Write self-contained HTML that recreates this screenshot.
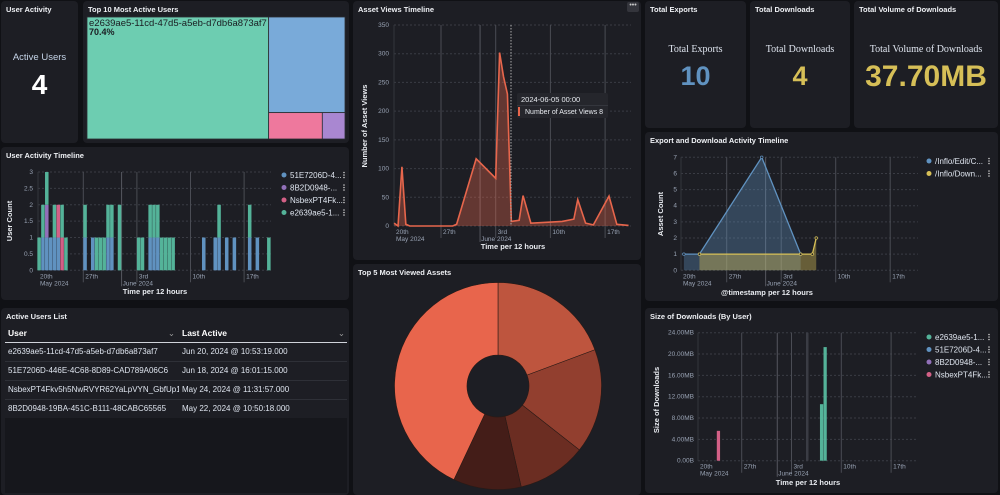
<!DOCTYPE html>
<html><head><meta charset="utf-8">
<style>
*{box-sizing:border-box;margin:0;padding:0}
body{width:1000px;height:495px;background:#101115;font-family:"Liberation Sans",sans-serif;color:#dfe5ef;position:relative;overflow:hidden}
.p{position:absolute;background:#1d1e24;border-radius:4px;overflow:hidden}
.t{position:absolute;left:5px;top:4px;font-size:7.5px;font-weight:bold;color:#eef0f4}
svg{position:absolute;left:0;top:0}
text{font-family:"Liberation Sans",sans-serif}
.stl{position:absolute;width:100%;text-align:center;font-family:"Liberation Serif",serif;font-size:10px;color:#dfe5ef}
.sv{position:absolute;width:100%;text-align:center;font-weight:bold}
table{border-collapse:collapse;width:100%;font-size:8.5px;table-layout:fixed}
tr.r td{font-size:8px;white-space:nowrap;overflow:hidden}
</style></head><body>
<svg id="root" width="1000" height="495"></svg>

<div class="p" style="left:1px;top:1px;width:77px;height:142px">
 <div class="t">User Activity</div>
 <div class="stl" style="top:51px;color:#c5d4e8;font-family:'Liberation Sans',sans-serif;font-size:9.5px">Active Users</div>
 <div class="sv" style="top:68px;font-size:28px;color:#fff">4</div>
</div>

<div class="p" style="left:83px;top:1px;width:266px;height:142px">
 <div class="t">Top 10 Most Active Users</div>
</div>

<div class="p" style="left:353px;top:1px;width:288px;height:259px">
 <div class="t">Asset Views Timeline</div>
 <div style="position:absolute;right:2px;top:1px;width:12px;height:10px;background:#34353c;border-radius:2px;font-size:7px;text-align:center;line-height:8px;color:#ccc">•••</div>
</div>

<div class="p" style="left:645px;top:1px;width:101px;height:127px">
 <div class="t">Total Exports</div>
 <div class="stl" style="top:43px">Total Exports</div>
 <div class="sv" style="top:60px;font-size:27px;color:#6092c0">10</div>
</div>
<div class="p" style="left:750px;top:1px;width:100px;height:127px">
 <div class="t">Total Downloads</div>
 <div class="stl" style="top:43px">Total Downloads</div>
 <div class="sv" style="top:60px;font-size:27px;color:#d6bf57">4</div>
</div>
<div class="p" style="left:854px;top:1px;width:144px;height:127px">
 <div class="t">Total Volume of Downloads</div>
 <div class="stl" style="top:43px">Total Volume of Downloads</div>
 <div class="sv" style="top:59px;font-size:30px;color:#d6bf57">37.70MB</div>
</div>

<div class="p" style="left:1px;top:147px;width:348px;height:153px">
 <div class="t">User Activity Timeline</div>
</div>
<div class="p" style="left:645px;top:132px;width:353px;height:169px">
 <div class="t">Export and Download Activity Timeline</div>
</div>

<div class="p" style="left:1px;top:308px;width:348px;height:187px">
 <div class="t">Active Users List</div>
 <div style="position:absolute;left:4px;top:17px;width:342px;height:168px">
 <table>
  <colgroup><col style="width:174px"><col></colgroup>
  <tr style="height:17px;border-bottom:1px solid #d0d3da;font-weight:bold;color:#fff">
   <td style="padding-left:3px">User <span style="float:right;font-weight:normal;color:#999;padding-right:4px">⌄</span></td>
   <td style="padding-left:3px">Last Active <span style="float:right;font-weight:normal;color:#999;padding-right:2px">⌄</span></td></tr>
  <tr class="r" style="height:19px;border-bottom:1px solid #2e3037"><td style="padding-left:3px">e2639ae5-11cd-47d5-a5eb-d7db6a873af7</td><td style="padding-left:3px">Jun 20, 2024 @ 10:53:19.000</td></tr>
  <tr class="r" style="height:19px;border-bottom:1px solid #2e3037"><td style="padding-left:3px">51E7206D-446E-4C68-8D89-CAD789A06C6</td><td style="padding-left:3px">Jun 18, 2024 @ 16:01:15.000</td></tr>
  <tr class="r" style="height:19px;border-bottom:1px solid #2e3037"><td style="padding-left:3px">NsbexPT4Fkv5h5NwRVYR62YaLpVYN_GbfUp1</td><td style="padding-left:3px">May 24, 2024 @ 11:31:57.000</td></tr>
  <tr class="r" style="height:19px;border-bottom:1px solid #2e3037"><td style="padding-left:3px">8B2D0948-19BA-451C-B111-48CABC65565</td><td style="padding-left:3px">May 22, 2024 @ 10:50:18.000</td></tr>
 </table>
 <div style="position:absolute;left:0;top:93px;width:342px;height:75px;background:#16171c"></div>
 </div>
</div>

<div class="p" style="left:353px;top:264px;width:288px;height:231px">
 <div class="t">Top 5 Most Viewed Assets</div>
</div>
<div class="p" style="left:645px;top:308px;width:353px;height:185px">
 <div class="t">Size of Downloads (By User)</div>
</div>

<svg id="ov" width="1000" height="495"></svg>

<script>
// ---------- data ----------
const treemapUsers = ["e2639ae5-11cd-47d5-a5eb-d7db6a873af7","51E7206D-446E","NsbexPT4Fkv5","8B2D0948-19BA"];
const treemapValues = [70.4, 23.2, 4.5, 1.9];

const avBuckets = [-12,-11,-10,-9,-8,3,4,9,14,15,16,17,18,20,21,23,31,34,35,37,39,43,45,48];
const avValues  = [5,0,103,3,0,0,3,117,83,302,260,230,8,10,53,5,8,12,46,5,2,52,3,1];
const avTicks = [0,50,100,150,200,250,300,350];

const uaBuckets = [-12,-11,-10,-9,-8,-7,-6,-5,0,2,3,4,5,6,7,9,14,15,17,18,19,20,21,22,23,31,34,35,37,39,43,45,48];
const uaBlue    = [0,1,1,1,1,1,0,0,1,1,0,0,0,1,1,0,0,0,1,1,1,0,0,0,0,1,1,1,1,1,1,1,0];
const uaPurple  = [0,0,1,0,0,0,0,0,0,0,0,0,0,0,0,0,0,0,0,0,0,0,0,0,0,0,0,0,0,0,0,0,0];
const uaPink    = [0,0,0,0,0,1,1,0,0,0,0,0,0,0,0,0,0,0,0,0,0,0,0,0,0,0,0,0,0,0,0,0,0];
const uaGreen   = [1,1,1,0,1,0,1,1,1,0,1,1,1,1,1,2,1,1,1,1,1,1,1,1,1,0,0,1,0,0,1,0,1];
const uaTicks = [0,0.5,1,1.5,2,2.5,3];

const exBlueBuckets = [-11,-7,9,19];
const exBlueValues = [1,1,7,1];
const exYellowBuckets = [-7,19,22,23];
const exYellowValues = [1,1,1,2];
const exTicks = [0,1,2,3,4,5,6,7];

const pieValues = [193,163,108,106,430];

const dlBuckets = [-7,22,23];
const dlGreen = [0,10.6,21.3];
const dlPink = [5.6,0,0];
const dlTicks = [0,4,8,12,16,20,24];
const dlTickLabels = ["0.00B","4.00MB","8.00MB","12.00MB","16.00MB","20.00MB","24.00MB"];

const xLabels = ["20th","27th","3rd","10th","17th"];
const xLabelDays = [-7,0,7,14,21];

// ---------- helpers ----------
const NS="http://www.w3.org/2000/svg";
const ov=document.getElementById('ov');
function mk(tag,attrs,parent){const e=document.createElementNS(NS,tag);for(const k in attrs)e.setAttribute(k,attrs[k]);(parent||ov).appendChild(e);return e;}
function txt(x,y,s,attrs){const e=mk('text',Object.assign({x:x,y:y,'font-size':6.5,fill:'#98a2b3'},attrs||{}));e.textContent=s;return e;}

function timeAxis(cfg){
  const g=mk('g',{});
  
  
  xLabelDays.forEach((d,k)=>{
    let x=cfg.x27+d*cfg.wk/7;
    let lx=x;
    if(x<cfg.left){lx=cfg.left;} else {mk('line',{x1:x,x2:x,y1:cfg.top,y2:cfg.bottom+12,stroke:'#4a4c54','stroke-width':1},g);}
    const t=txt(lx+2,cfg.bottom+8,xLabels[k],{});g.appendChild(t);
    if(k==0){const t2=txt(lx+2,cfg.bottom+15,"May 2024",{});g.appendChild(t2);}
  });
  const jx=cfg.x27+5*cfg.wk/7;
  mk('line',{x1:jx,x2:jx,y1:cfg.top,y2:cfg.bottom+16,stroke:'#55575f','stroke-width':1},g);
  const t3=txt(jx+1,cfg.bottom+15,"June 2024",{});g.appendChild(t3);
  mk('line',{x1:cfg.left,x2:cfg.left,y1:cfg.top,y2:cfg.bottom,stroke:'#34363d'},g);
}
function yGrid(name,ticks,labels,yf,left,right,lx){
  const g=mk('g',{});
  
  
  ticks.forEach((v,k)=>{
    const y=yf(v);
    mk('line',{x1:left,x2:right,y1:y,y2:y,stroke:'#3a3c44','stroke-dasharray':'2,2'},g);
    const t=txt(lx,y+2,labels?labels[k]:String(v),{'text-anchor':'end'});g.appendChild(t);
  });
}
function axisTitle(x,y,s,rot,name){
  const t=txt(x,y,s,{'font-size':7.5,'font-weight':'bold',fill:'#e8ebf0','text-anchor':'middle',transform:rot?`rotate(-90 ${x} ${y})`:''});
  
  
}
function legend(x,y,items,name){
  items.forEach((it,k)=>{
    const g=mk('g',{});
    
    
    mk('circle',{cx:x,cy:y+k*12.5,r:2.5,fill:it[1]},g);
    g.appendChild(txt(x+6,y+k*12.5+3,it[0],{'font-size':8,fill:'#dfe5ef'}));
    for(let d=-1;d<=1;d++)mk('circle',{cx:x+60,cy:y+k*12.5+d*2.5,r:0.8,fill:'#ccc'},g);
  });
}
const BLUE='#6092c0',PURPLE='#9170b8',PINK='#d36086',GREEN='#54b399',YEL='#d6bf57';

// ---------- treemap ----------
(function(){
  const L=87,T=17,W=258,H=122,tot=treemapValues.reduce((a,b)=>a+b,0);
  const cols=['#6dcdb1','#79aad9','#ee789d','#a987d1'];
  const w0=W*treemapValues[0]/tot;
  const rects=[[L,T,w0,H]];
  const rest=tot-treemapValues[0];
  const h1=H*treemapValues[1]/rest;
  rects.push([L+w0,T,W-w0,h1]);
  const rw=W-w0,r2=treemapValues[2]+treemapValues[3];
  const w2=rw*treemapValues[2]/r2;
  rects.push([L+w0,T+h1,w2,H-h1]);
  rects.push([L+w0+w2,T+h1,rw-w2,H-h1]);
  rects.forEach((r,k)=>{
    const e=mk('rect',{x:r[0],y:r[1],width:r[2],height:r[3],fill:cols[k],stroke:'#2b2d33','stroke-width':0.8});
    
    
  });
  txt(89,26,treemapUsers[0],{'font-size':9.5,fill:'#1a1c21'});
  txt(89,35,(treemapValues[0]/tot*100).toFixed(1)+'%',{'font-size':9,'font-weight':'bold',fill:'#1a1c21'});
})();

// ---------- asset views ----------
(function(){
  const x27=441,wk=54.7,left=394,right=631,top=25,bot=226;
  const xf=i=>x27+i*wk/14, yf=v=>bot-v*(bot-top)/350;
  yGrid('asset-views',avTicks,null,yf,left,right,389);
  timeAxis({name:'asset-views',x27,wk,left,right,top,bottom:bot});
  let d=`M${xf(avBuckets[0])},${bot}`;
  avBuckets.forEach((b,k)=>d+=` L${xf(b)},${yf(avValues[k])}`);
  d+=` L${xf(avBuckets[avBuckets.length-1])},${bot} Z`;
  const a=mk('path',{d,fill:'#e7664c','fill-opacity':0.35});
  
  
  const l=mk('polyline',{points:avBuckets.map((b,k)=>xf(b)+','+yf(avValues[k])).join(' '),fill:'none',stroke:'#e7664c','stroke-width':1.6});
  
  
  mk('line',{x1:511,x2:511,y1:top,y2:bot,stroke:'#aaa','stroke-dasharray':'1.5,1.5'});
  const tip=mk('g',{});
  
  
  mk('rect',{x:517,y:93,width:91,height:25,fill:'#25262c',rx:2},tip);
  mk('line',{x1:517,x2:608,y1:105.5,y2:105.5,stroke:'#34363d'},tip);
  tip.appendChild(txt(521,102,'2024-06-05 00:00',{'font-size':7.5,fill:'#e8ebf0'}));
  mk('rect',{x:518,y:107,width:2,height:9,fill:'#e7664c'},tip);
  tip.appendChild(txt(525,114,'Number of Asset Views   8',{'font-size':7,fill:'#e8ebf0'}));
  axisTitle(367,126,'Number of Asset Views',true,'asset-views-y-title');
  axisTitle(513,249,'Time per 12 hours',false,'asset-views-x-title');
})();

// ---------- user activity timeline ----------
(function(){
  const x27=83.3,wk=53.6,left=38,right=271,top=172,bot=270.3;
  const unit=(bot-top)/3;
  const xf=i=>x27+i*wk/14, yf=v=>bot-v*unit;
  yGrid('user-activity',uaTicks,null,yf,left,right,33);
  timeAxis({name:'user-activity',x27,wk,left,right,top,bottom:bot});
  const series=[[uaBlue,BLUE],[uaPurple,PURPLE],[uaPink,PINK],[uaGreen,GREEN]];
  uaBuckets.forEach((b,k)=>{
    let acc=0;
    series.forEach(s=>{
      const v=s[0][k]; if(!v)return;
      const r=mk('rect',{x:xf(b),y:yf(acc+v),width:wk/14-0.3,height:v*unit,fill:s[1]});
      
      
      acc+=v;
    });
  });
  axisTitle(12,221,'User Count',true,'user-activity-y-title');
  axisTitle(155,294,'Time per 12 hours',false,'user-activity-x-title');
  legend(284,175,[['51E7206D-4...',BLUE],['8B2D0948-...',PURPLE],['NsbexPT4Fk...',PINK],['e2639ae5-1...',GREEN]],'user-activity');
})();

// ---------- export/download ----------
(function(){
  const x27=726.7,wk=54.5,left=681,right=918,top=157.3,bot=270.3;
  const unit=(bot-top)/7;
  const xf=i=>x27+i*wk/14, yf=v=>bot-v*unit;
  yGrid('export',exTicks,null,yf,left,right,677);
  timeAxis({name:'export',x27,wk,left,right,top,bottom:bot});
  function area(b,v,col,op){
    let d=`M${xf(b[0])},${bot}`;b.forEach((x,k)=>d+=` L${xf(x)},${yf(v[k])}`);d+=` L${xf(b[b.length-1])},${bot} Z`;
    const a=mk('path',{d,fill:col,'fill-opacity':op});
    
    
  }
  area(exBlueBuckets,exBlueValues,BLUE,0.35);
  area(exYellowBuckets,exYellowValues,YEL,0.4);
  [[exBlueBuckets,exBlueValues,BLUE],[exYellowBuckets,exYellowValues,YEL]].forEach(s=>{
    const l=mk('polyline',{points:s[0].map((b,k)=>xf(b)+','+yf(s[1][k])).join(' '),fill:'none',stroke:s[2],'stroke-width':1.3});
    
    
    s[0].forEach((b,k)=>mk('circle',{cx:xf(b),cy:yf(s[1][k]),r:1.3,fill:'#1d1e24',stroke:s[2],'stroke-width':0.7}));
  });
  axisTitle(663,214,'Asset Count',true,'export-y-title');
  axisTitle(767,295,'@timestamp per 12 hours',false,'export-x-title');
  legend(929,161,[['/Inflo/Edit/C...',BLUE],['/Inflo/Down...',YEL]],'export');
})();

// ---------- pie ----------
(function(){
  const cx=498,cy=386,R=103.5,r=31;
  const cols=['#be553e','#923f2f','#6b2d22','#441d18','#e8654c'];
  const tot=pieValues.reduce((a,b)=>a+b,0);
  let a0=0;
  pieValues.forEach((v,k)=>{
    const a1=a0+v/tot*2*Math.PI;
    const p=(a,rr)=>[cx+rr*Math.sin(a),cy-rr*Math.cos(a)];
    const [x0,y0]=p(a0,R),[x1,y1]=p(a1,R),[x2,y2]=p(a1,r),[x3,y3]=p(a0,r);
    const lg=(a1-a0)>Math.PI?1:0;
    const e=mk('path',{d:`M${x0},${y0} A${R},${R} 0 ${lg} 1 ${x1},${y1} L${x2},${y2} A${r},${r} 0 ${lg} 0 ${x3},${y3} Z`,fill:cols[k],stroke:'#2a1a16','stroke-width':0.6});
    
    
    a0=a1;
  });
})();

// ---------- downloads ----------
(function(){
  const x27=741.7,wk=49.8,left=698,right=916,top=332.7,bot=460.7;
  const unit=(bot-top)/24;
  const xf=i=>x27+i*wk/14, yf=v=>bot-v*unit;
  yGrid('downloads',dlTicks,dlTickLabels,yf,left,right,694);
  timeAxis({name:'downloads',x27,wk,left,right,top,bottom:bot});
  mk('rect',{x:806,y:top,width:2.5,height:bot-top,fill:'#3a3c44'});
  dlBuckets.forEach((b,k)=>{
    [[dlPink[k],PINK],[dlGreen[k],GREEN]].forEach(s=>{
      if(!s[0])return;
      const r=mk('rect',{x:xf(b),y:yf(s[0]),width:wk/14-0.3,height:s[0]*unit,fill:s[1]});
      
      
    });
  });
  axisTitle(659,400,'Size of Downloads',true,'downloads-y-title');
  axisTitle(808,485,'Time per 12 hours',false,'downloads-x-title');
  legend(929,337,[['e2639ae5-1...',GREEN],['51E7206D-4...',BLUE],['8B2D0948-...',PURPLE],['NsbexPT4Fk...',PINK]],'downloads');
})();
</script>
</body></html>
